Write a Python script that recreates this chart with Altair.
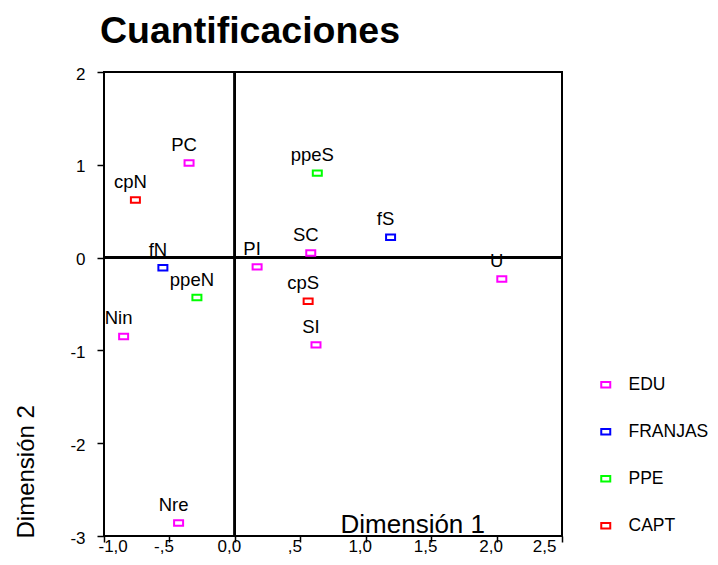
import altair as alt
import pandas as pd

# ---- data ----
names = ["PC", "cpN", "fN", "ppeN", "Nin", "Nre", "PI", "SC", "ppeS", "cpS", "SI", "fS", "U"]
dim1 = [-0.35, -0.76, -0.55, -0.29, -0.85, -0.43, 0.17, 0.58, 0.63, 0.56, 0.62, 1.19, 2.04]
dim2 = [1.02, 0.62, -0.11, -0.43, -0.85, -2.86, -0.10, 0.05, 0.91, -0.47, -0.94, 0.22, -0.23]
groups = ["EDU", "CAPT", "FRANJAS", "PPE", "EDU", "EDU", "EDU", "EDU", "PPE", "CAPT", "EDU", "FRANJAS", "EDU"]

legend_order = ["EDU", "FRANJAS", "PPE", "CAPT"]
legend_colors = ["#FF00FF", "#0000FF", "#00FF00", "#FF0000"]

x_ticks = [-1.0, -0.5, 0.0, 0.5, 1.0, 1.5, 2.0, 2.5]
x_tick_labels = ["-1,0", "-,5", "0,0", ",5", "1,0", "1,5", "2,0", "2,5"]
y_ticks = [-3, -2, -1, 0, 1, 2]
y_tick_labels = ["-3", "-2", "-1", "0", "1", "2"]

df = pd.DataFrame({"name": names, "d1": dim1, "d2": dim2, "grupo": groups})

FONT = "Liberation Sans"
RECT = "M-1,-0.6H1V0.6H-1Z"


def label_expr(vals, labs):
    v = ",".join(str(x) for x in vals)
    l = ",".join("'" + s + "'" for s in labs)
    return f"[{l}][indexof([{v}], datum.value)]"


xscale = alt.Scale(domain=[-1.0, 2.5], nice=False, zero=False)
yscale = alt.Scale(domain=[-3, 2], nice=False, zero=False)

xaxis = alt.Axis(
    values=x_ticks, labelExpr=label_expr(x_ticks, x_tick_labels),
    title="Dimensión 1", titleFontSize=26, titleFontWeight="normal", titleFont=FONT,
    titleColor="black", titleX=236, titleY=-4, titleAlign="left", titleBaseline="alphabetic",
    labelFont=FONT, labelFontSize=17, labelColor="black", labelPadding=9, labelOffset=-6,
    labelBaseline="alphabetic",
    tickSize=6, tickColor="black", tickWidth=1.5, domain=False, grid=False,
)
yaxis = alt.Axis(
    values=y_ticks, labelExpr=label_expr(y_ticks, y_tick_labels),
    title="Dimensión 2", titleFontSize=24, titleFontWeight="normal", titleFont=FONT,
    titleColor="black", titleX=-71, titleY=466, titleAlign="left", titleBaseline="alphabetic",
    titleAngle=270,
    labelFont=FONT, labelFontSize=17, labelColor="black", labelPadding=12, labelOffset=2,
    tickSize=7, tickColor="black", tickWidth=1.5, domain=False, grid=False,
)

base = alt.Chart(df)

vline = base.mark_rule(color="black", strokeWidth=2).encode(
    x=alt.datum(0, scale=xscale, axis=xaxis, type="quantitative"))
hline = base.mark_rule(color="black", strokeWidth=2).encode(
    y=alt.datum(0, scale=yscale, axis=yaxis, type="quantitative"))

points = base.mark_point(shape=RECT, filled=False, strokeWidth=2, size=81, opacity=1).encode(
    x=alt.X("d1:Q", scale=xscale, axis=xaxis),
    y=alt.Y("d2:Q", scale=yscale, axis=yaxis),
    color=alt.Color(
        "grupo:N",
        scale=alt.Scale(domain=legend_order, range=legend_colors),
        legend=alt.Legend(
            title=None, orient="none", legendX=493, legendY=304,
            symbolType=RECT, symbolSize=81, symbolStrokeWidth=2,
            labelFont=FONT, labelFontSize=17.5, labelColor="black", labelOffset=14,
            rowPadding=28, padding=0,
        ),
    ),
)

labels = base.mark_text(font=FONT, fontSize=18.5, color="black", dx=-5, dy=-12,
                        baseline="alphabetic", align="center").encode(
    x=alt.X("d1:Q", scale=xscale, axis=xaxis),
    y=alt.Y("d2:Q", scale=yscale, axis=yaxis),
    text="name:N",
)

chart = alt.layer(vline, hline, points, labels).properties(
    width=458, height=464,
    padding={"left": 96, "top": 64, "right": 148, "bottom": 21},
    autosize="none",
    title=alt.TitleParams("Cuantificaciones", font=FONT, fontSize=37.5, fontWeight="bold",
                          color="black", anchor="start", frame="group", dx=-4, dy=5, offset=20),
).configure(
    background="white",
    view=alt.ViewConfig(stroke="black", strokeWidth=2),
)

chart.save("out.html", embed_options={"renderer": "svg", "actions": False})
